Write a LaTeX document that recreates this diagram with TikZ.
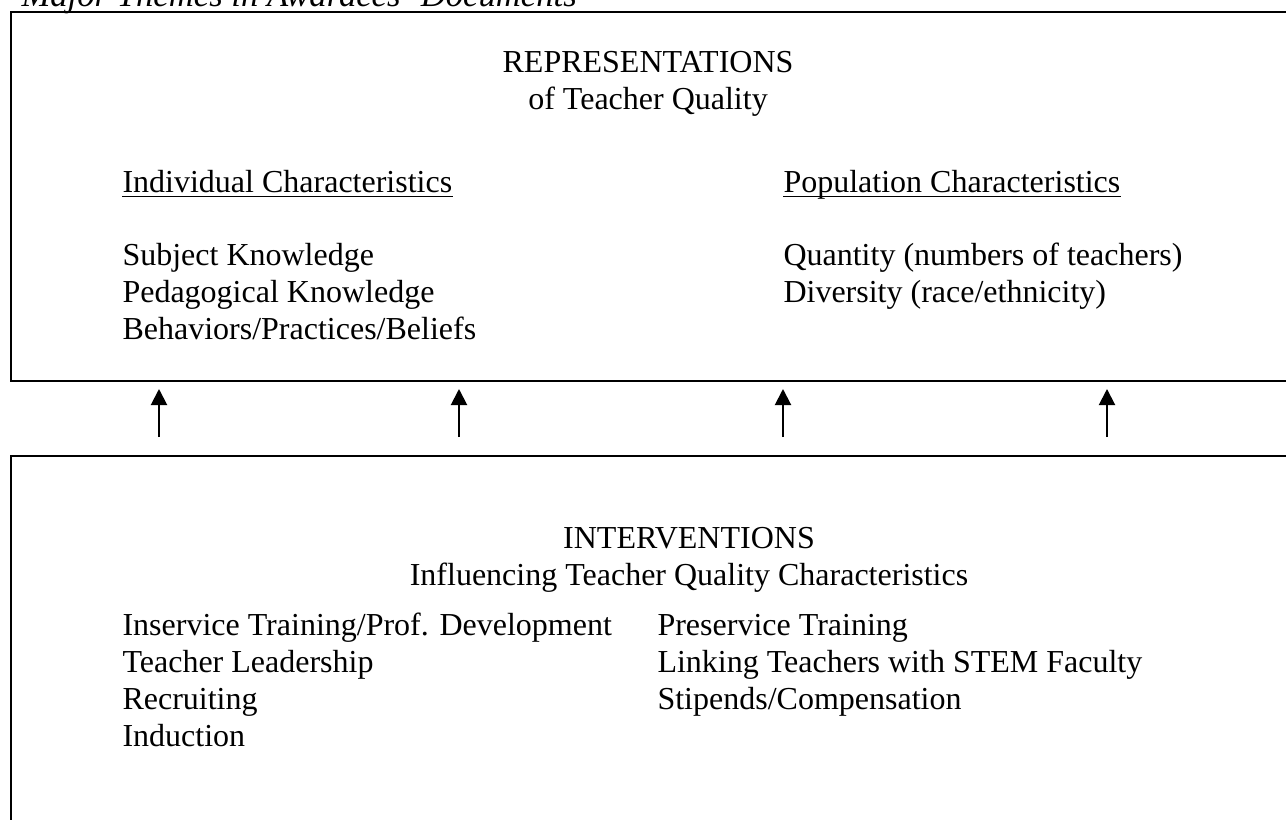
\documentclass[tikz,border=0pt]{standalone}
\usepackage{fontspec}
\setmainfont{Liberation Serif}
\usetikzlibrary{arrows.meta}
\begin{document}
\begin{tikzpicture}[x=0.375pt,y=-0.375pt,
  box/.style={draw=black,line width=0.5pt},
  txt/.style={inner sep=0pt,anchor=base west,font=\fontsize{12}{13.875}\selectfont},
  ctxt/.style={inner sep=0pt,anchor=base,font=\fontsize{12}{13.875}\selectfont},
  ttl/.style={inner sep=0pt,anchor=base west,font=\fontsize{13}{15}\selectfont\itshape},
  uline/.style={line width=0.5pt},
  up/.style={-{Triangle[width=6pt,length=6pt]},line width=0.75pt}]
\useasboundingbox (0,0) rectangle (1286,819);
\clip (0,0) rectangle (1286,819);
% title (cut off at the top)
\node[ttl] (title) at (21,6) {Major Themes in Awardees' Documents};
% boxes
\coordinate (repNW) at (11,12);
\coordinate (repSE) at (1300,381);
\coordinate (intNW) at (11,456);
\coordinate (intSE) at (1300,830);
\draw[box] (repNW) rectangle (repSE);
\draw[box] (intNW) rectangle (intSE);
% top box text
\node[ctxt] (repA) at (648,72) {REPRESENTATIONS};
\node[ctxt] (repB) at (648,109) {of Teacher Quality};
\node[txt] (indH) at (122,192) {Individual Characteristics};
\node[txt] (popH) at (783,192) {Population Characteristics};
\draw[uline] ([yshift=-1.7pt]indH.base west) -- ([yshift=-1.7pt]indH.base east);
\draw[uline] ([yshift=-1.7pt]popH.base west) -- ([yshift=-1.7pt]popH.base east);
\node[txt] (ind1) at (122,265) {Subject Knowledge};
\node[txt] (ind2) at (122,302) {Pedagogical Knowledge};
\node[txt] (ind3) at (122,339) {Behaviors/Practices/Beliefs};
\node[txt] (pop1) at (783,265) {Quantity (numbers of teachers)};
\node[txt] (pop2) at (783,302) {Diversity (race/ethnicity)};
% arrows
\foreach \i/\x in {1/159,2/459,3/783,4/1107}{
  \coordinate (s\i) at (\x,437);
  \coordinate (e\i) at (\x,389);
  \draw[up] (s\i) -- (e\i);
}
% bottom box text
\node[ctxt] (intA) at (689,548) {INTERVENTIONS};
\node[ctxt] (intB) at (689,585) {Influencing Teacher Quality Characteristics};
\node[txt] (l1) at (122,635) {Inservice Training/Prof. Development};
\node[txt] (l2) at (122,672) {Teacher Leadership};
\node[txt] (l3) at (122,709) {Recruiting};
\node[txt] (l4) at (122,746) {Induction};
\node[txt] (r1) at (657,635) {Preservice Training};
\node[txt] (r2) at (657,672) {Linking Teachers with STEM Faculty};
\node[txt] (r3) at (657,709) {Stipends/Compensation};
\end{tikzpicture}
\end{document}
